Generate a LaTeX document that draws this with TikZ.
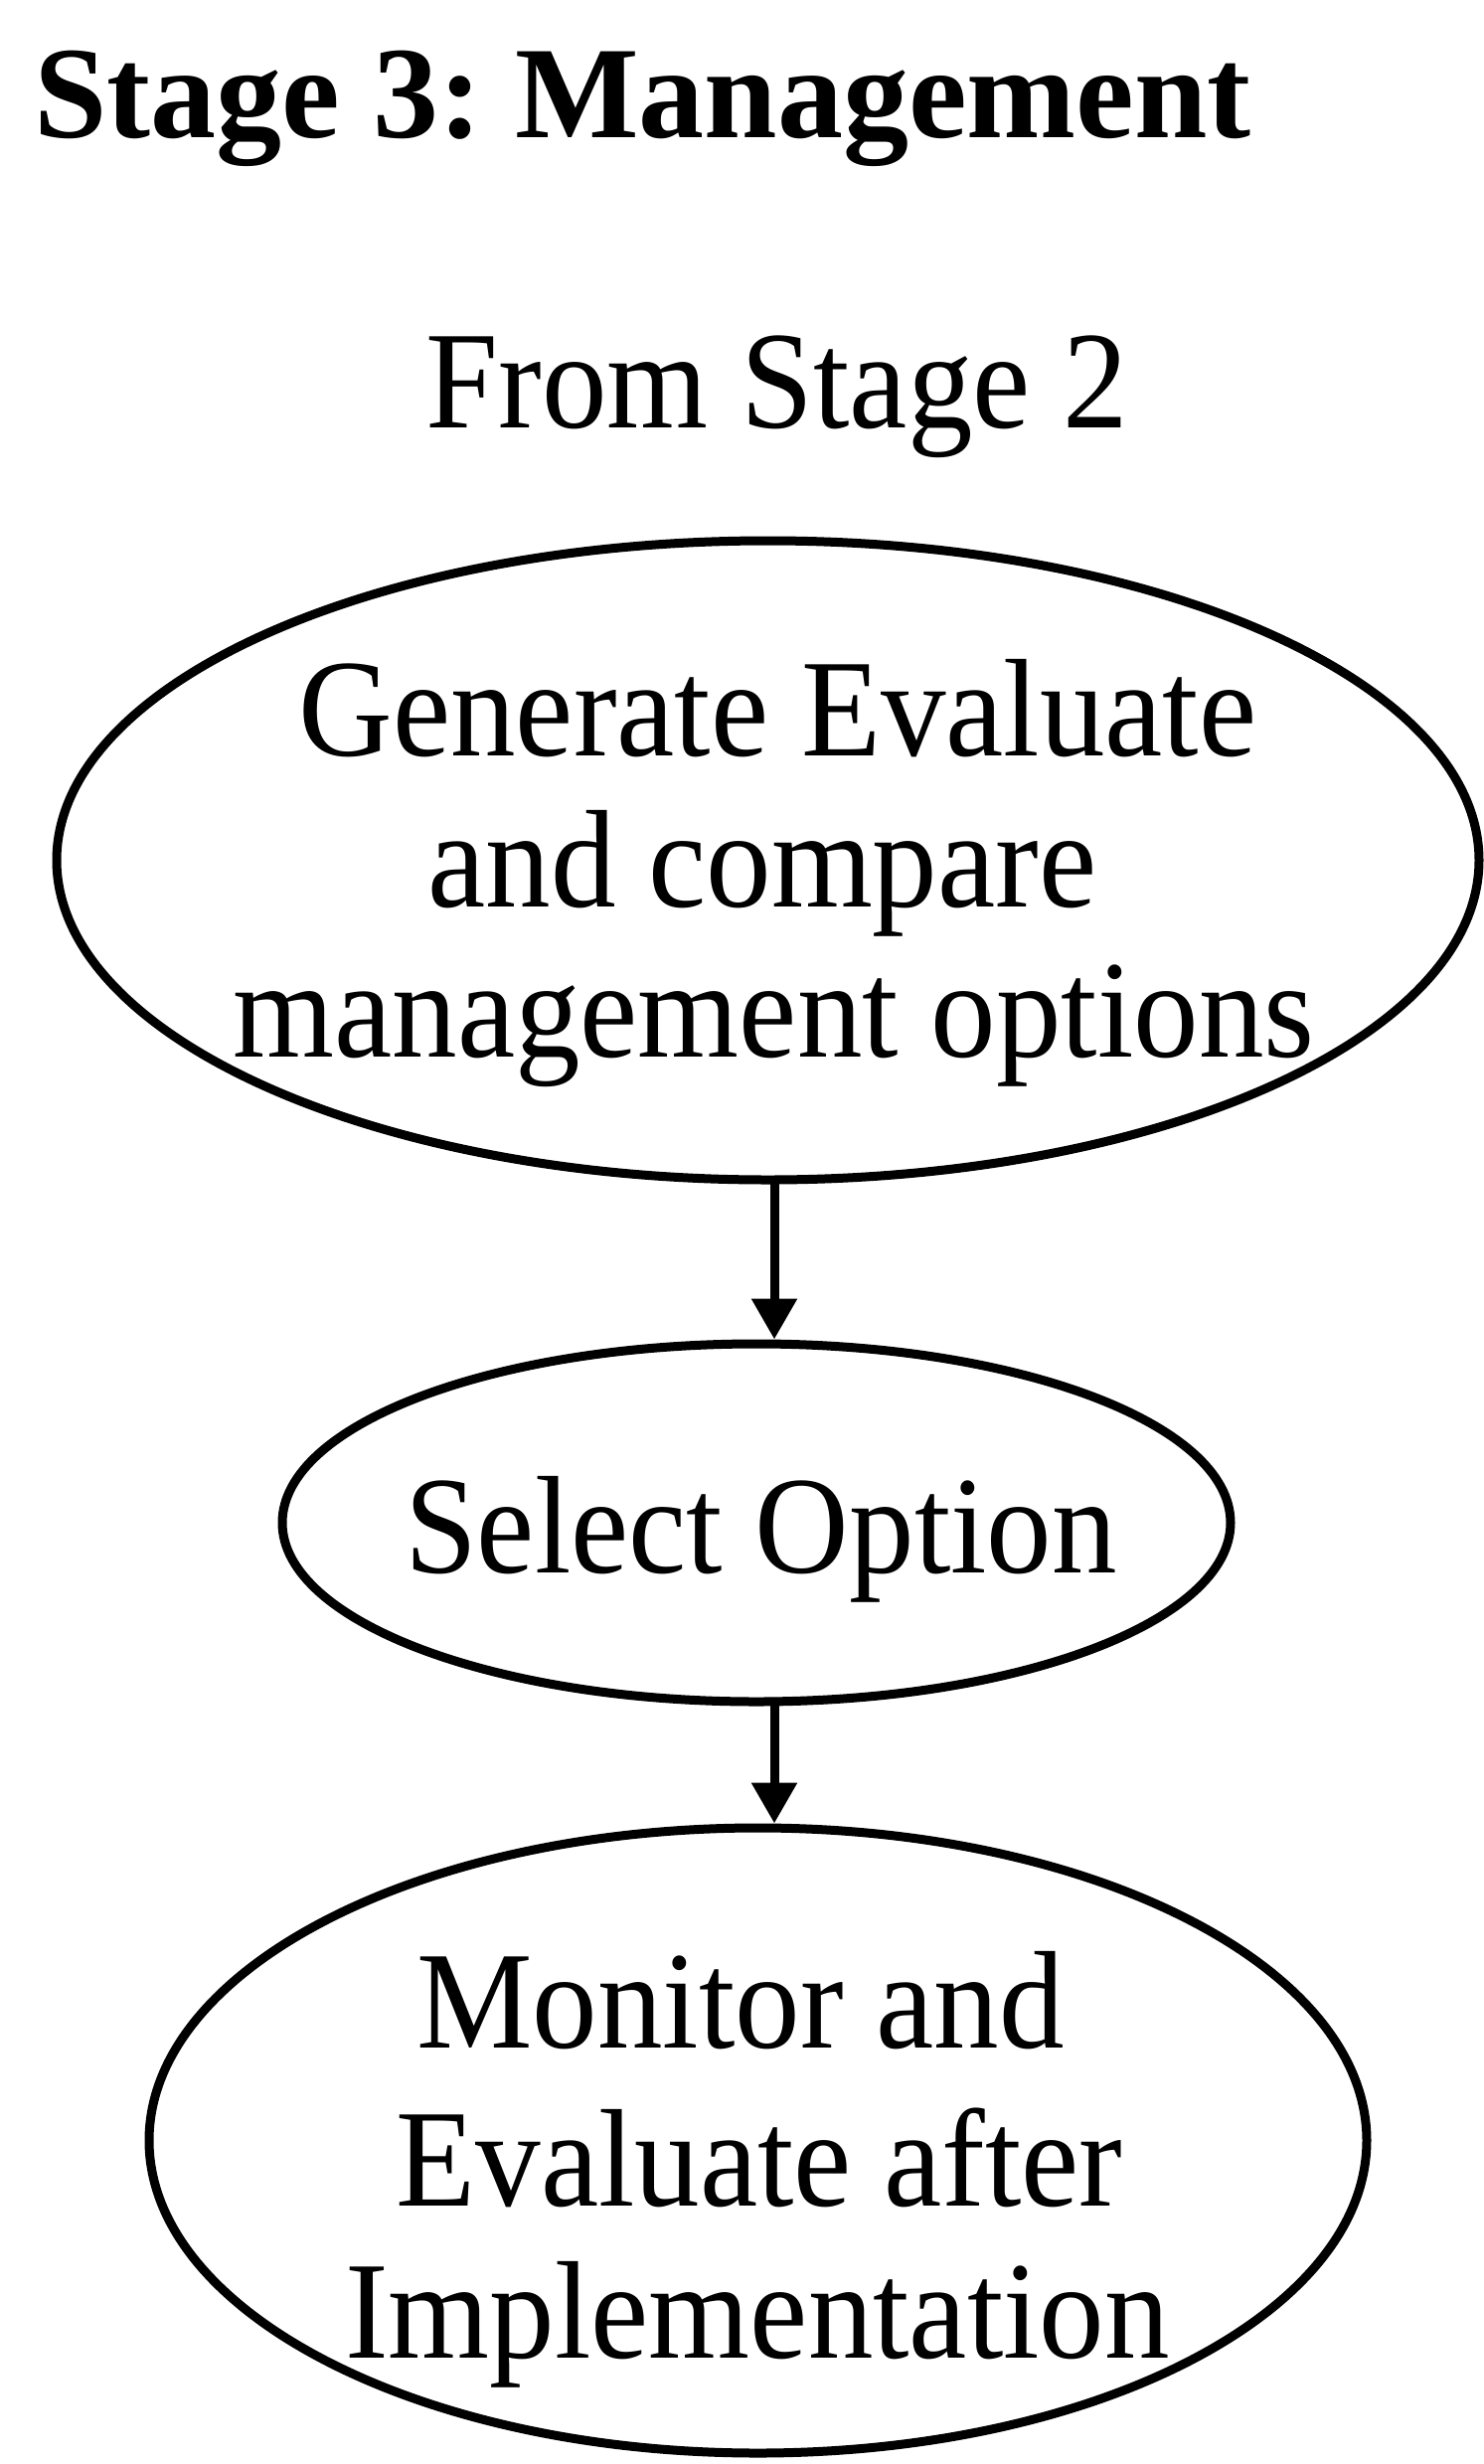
\documentclass[tikz,border=0pt]{standalone}
\usepackage{fontspec}
\setmainfont{Liberation Serif}
\newfontfamily\bodyfont[FakeStretch=0.936]{Liberation Serif}
\usetikzlibrary{arrows.meta,shapes.geometric}
\frenchspacing
\begin{document}
\begin{tikzpicture}[x=1pt,y=-1pt,
  oval/.style={draw=black, ellipse, line width=9pt, inner sep=0pt, outer sep=0pt},
  bodytext/.style={inner sep=0pt, anchor=base,
    font=\bodyfont\fontsize{140}{150}\selectfont},
  flow/.style={line width=9pt, shorten >=4.5pt,
    -{Triangle[width=44pt,length=41pt]}}
]
% page
\fill[white] (0,0) rectangle (1492,2479);
\useasboundingbox (0,0) rectangle (1492,2479);

% headings
\node[inner sep=0pt, anchor=base west,
  font=\bfseries\fontsize{132}{140}\selectfont] (title) at (34,138)
  {Stage 3: Management};
\node[bodytext] (from) at (782,430) {From Stage 2};

% process ovals
\node[oval, minimum width=1431pt, minimum height=643pt] (gen) at (772.5,865.5) {};
\node[oval, minimum width=954pt, minimum height=360pt] (sel) at (761,1532) {};
\node[oval, minimum width=1225pt, minimum height=629pt] (mon) at (762.5,2153.5) {};

% labels inside the ovals
\node[bodytext] (gen1) at (782.5,760) {Generate Evaluate};
\node[bodytext] (gen2) at (767,912) {and compare};
\node[bodytext] (gen3) at (778.5,1063) {management options};
\node[bodytext] (sel1) at (765.5,1582) {Select Option};
\node[bodytext] (mon1) at (745,2060) {Monitor and};
\node[bodytext] (mon2) at (764,2219) {Evaluate after};
\node[bodytext] (mon3) at (762,2372) {Implementation};

% flow arrows
\coordinate (axis) at (779,0);
\draw[flow] (gen.south -| axis) -- (sel.north -| axis);
\draw[flow] (sel.south -| axis) -- (mon.north -| axis);
\end{tikzpicture}
\end{document}
